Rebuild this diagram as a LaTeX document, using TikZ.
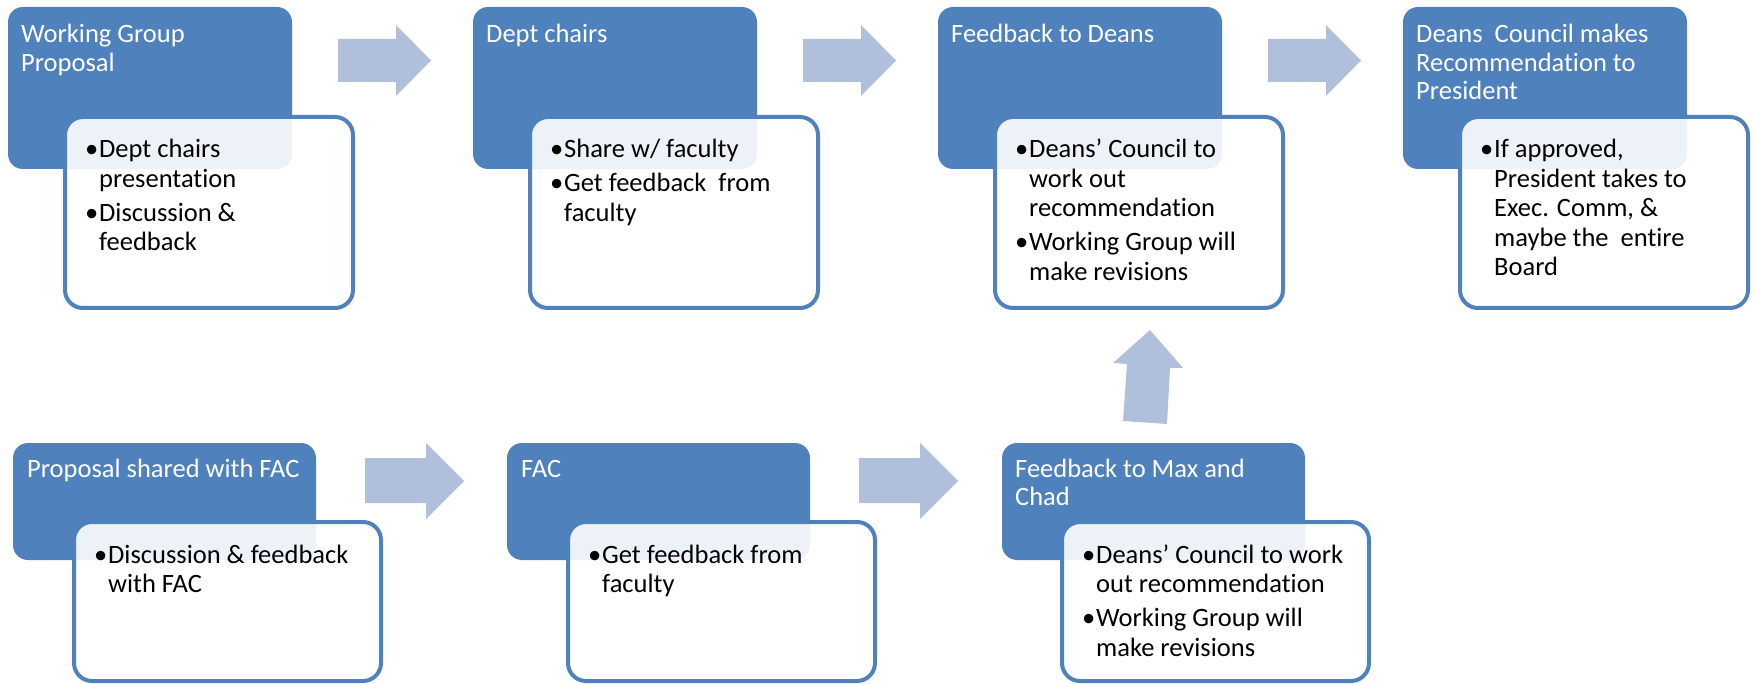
\documentclass[tikz,border=0pt]{standalone}
\usepackage{fontspec}
\setmainfont{Carlito}[Ligatures=NoCommon]
\definecolor{boxblue}{HTML}{4F81BD}
\definecolor{arrowblue}{HTML}{B0C0DC}
\newcommand{\bul}{\leavevmode\llap{\makebox[14pt][l]{•}}}
\newcommand{\btext}[1]{\parbox[t]{400pt}{#1}}
\tikzset{
  bluebox/.style={fill=boxblue, rounded corners=15pt, inner sep=0pt, outer sep=0pt, anchor=north west},
  whitebox/.style={draw=boxblue, line width=4pt, fill=white, fill opacity=0.9, rounded corners=18pt, inner sep=0pt, outer sep=0pt, anchor=north west},
  toprow/.style={minimum width=284pt, minimum height=162pt},
  topwhite/.style={minimum width=288pt, minimum height=191pt},
  botrow/.style={minimum width=303pt, minimum height=117pt},
  botwhite/.style={minimum width=307pt, minimum height=159pt},
  titletext/.style={anchor=base west, inner sep=0pt, text=white, font=\fontsize{26.5}{28.5}\selectfont},
  bullettext/.style={anchor=base west, inner sep=0pt, text=black, font=\fontsize{26.5}{29.5}\selectfont},
  flowarrow/.style={fill=arrowblue}
}
\begin{document}
\begin{tikzpicture}[x=1pt,y=-1pt]
\useasboundingbox (0,0) rectangle (1756,684);

% right arrows, top row
\foreach \x in {338,803,1268}{
  \fill[flowarrow] (\x,39) -- (\x+58,39) -- (\x+58,25) -- (\x+93,60.5) -- (\x+58,96) -- (\x+58,82) -- (\x,82) -- cycle;
}
% right arrows, bottom row
\foreach \x in {365,859}{
  \fill[flowarrow] (\x,458) -- (\x+61,458) -- (\x+61,443) -- (\x+99,481) -- (\x+61,519) -- (\x+61,503) -- (\x,503) -- cycle;
}
% up arrow
\fill[flowarrow] (1123,421) -- (1127,364) -- (1113,363) -- (1150,330) -- (1183,368) -- (1170,368) -- (1167,424) -- cycle;

% ---- top row ----
\node[bluebox, toprow] (b1) at (8,7) {};
\node[whitebox, topwhite] (w1) at (65,117) {};
\node[titletext] (t1) at (21,43) {\btext{Working Group\\Proposal}};
\node[bullettext] (d1) at (99,158) {\btext{\bul Dept chairs\\presentation\\[4.5pt]\bul Discussion \&\\feedback}};

\node[bluebox, toprow] (b2) at (473,7) {};
\node[whitebox, topwhite] (w2) at (530,117) {};
\node[titletext] (t2) at (486,43) {\btext{Dept chairs}};
\node[bullettext] (d2) at (564,158) {\btext{\bul Share w/ faculty\\[4.5pt]\bul Get feedback\ \ from\\faculty}};

\node[bluebox, toprow] (b3) at (938,7) {};
\node[whitebox, topwhite] (w3) at (995,117) {};
\node[titletext] (t3) at (951,43) {\btext{Feedback to Deans}};
\node[bullettext] (d3) at (1029,158) {\btext{\bul Deans’ Council to\\work out\\recommendation\\[4.5pt]\bul Working Group will\\make revisions}};

\node[bluebox, toprow] (b4) at (1403,7) {};
\node[whitebox, topwhite] (w4) at (1460,117) {};
\node[titletext] (t4) at (1416,43) {\btext{Deans\ \ Council makes\\Recommendation to\\President}};
\node[bullettext] (d4) at (1494,158) {\btext{\bul If approved,\\President takes to\\Exec. Comm, \&\\maybe the\ \ entire\\Board}};

% ---- bottom row ----
\node[bluebox, botrow] (b5) at (13,443) {};
\node[whitebox, botwhite] (w5) at (74,522) {};
\node[titletext] (t5) at (27,477) {\btext{Proposal shared with FAC}};
\node[bullettext] (d5) at (108,563) {\btext{\bul Discussion \& feedback\\with FAC}};

\node[bluebox, botrow] (b6) at (507,443) {};
\node[whitebox, botwhite] (w6) at (568,522) {};
\node[titletext] (t6) at (521,477) {\btext{FAC}};
\node[bullettext] (d6) at (602,563) {\btext{\bul Get feedback from\\faculty}};

\node[bluebox, botrow] (b7) at (1002,443) {};
\node[whitebox, botwhite] (w7) at (1062,522) {};
\node[titletext] (t7) at (1015,477) {\btext{Feedback to Max and\\Chad}};
\node[bullettext] (d7) at (1096,563) {\btext{\bul Deans’ Council to work\\out recommendation\\[4.5pt]\bul Working Group will\\make revisions}};
\end{tikzpicture}
\end{document}
